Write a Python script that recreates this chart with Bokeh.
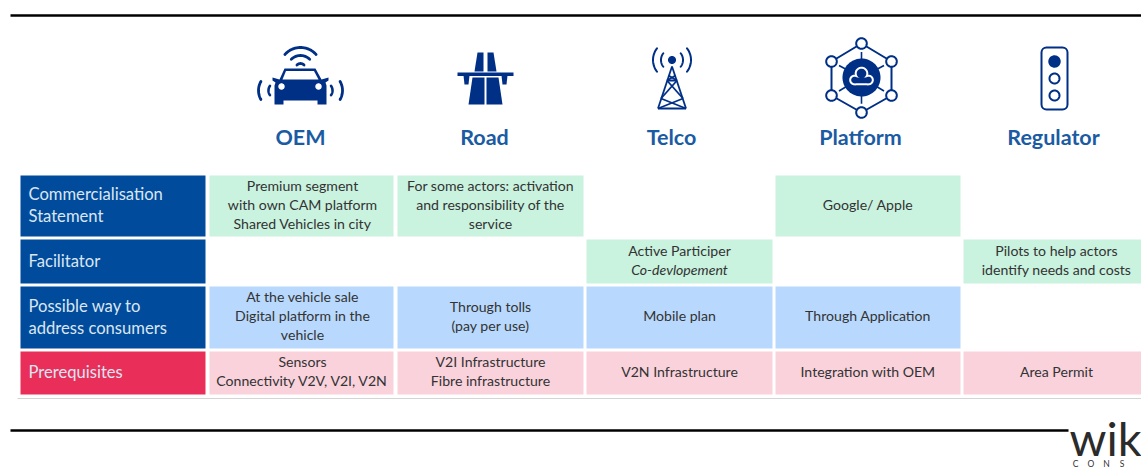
import numpy as np
from bokeh.plotting import figure
from bokeh.embed import file_html
from bokeh.resources import INLINE
from bokeh.core.properties import value

# ---- content ----
actors = ["OEM", "Road", "Telco", "Platform", "Regulator"]
row_labels = [["Commercialisation", "Statement"], ["Facilitator"],
              ["Possible way to", "address consumers"], ["Prerequisites"]]
commercialisation = [["Premium segment", "with own CAM platform", "Shared Vehicles in city"],
                     ["For some actors: activation", "and responsibility of the", "service"],
                     None, ["Google/ Apple"], None]
facilitator = [None, None, ["Active Participer", "Co-devlopement"], None,
               ["Pilots to help actors", "identify needs and costs"]]
consumers = [["At the vehicle sale", "Digital platform in the", "vehicle"],
             ["Through tolls", "(pay per use)"], ["Mobile plan"], ["Through Application"], None]
prerequisites = [["Sensors", "Connectivity V2V, V2I, V2N"],
                 ["V2I Infrastructure", "Fibre infrastructure"],
                 ["V2N Infrastructure"], ["Integration with OEM"], ["Area Permit"]]
table = [commercialisation, facilitator, consumers, prerequisites]
italic_lines = {"Co-devlopement"}
logo_main = "wik"
logo_sub = "CONSU"

# ---- layout (page pixels) ----
col_edges = [(209, 393), (397, 583), (586, 772), (775, 960), (963, 1141)]
col_text_x = [302, 490, 679, 867.5, 1056]
row_edges = [(175, 236), (239, 283), (286, 348), (351, 394)]
label_edge = (20, 205)
header_x = [300, 484, 671, 860, 1053]
NAVY, ICON = "#004b9c", "#002f86"
label_fill = [NAVY, NAVY, NAVY, "#e92e5a"]
cell_fill = ["#c9f2df", "#c9f2df", "#b8d9fd", "#f9d2dc"]
FONT = "Lato"

p = figure(width=1141, height=468, x_range=(0, 1141), y_range=(468, 0),
           toolbar_location=None, output_backend="svg", min_border=0,
           outline_line_color=None, background_fill_color="white")
p.xaxis.visible = False
p.yaxis.visible = False
p.grid.visible = False


def write(x, y, t, size, color, style="normal", align="center"):
    p.text([x], [y], text=[t], text_font=value(FONT), text_font_size=f"{size}px",
           text_color=color, text_font_style=style, text_align=align, text_baseline="middle")


def arc(cx, cy, r, a0, a1, n=24):
    """Polyline of an icon arc; angles clockwise from screen-right."""
    t = np.radians(np.linspace(a0, a1, n))
    return cx + r * np.cos(t), cy + r * np.sin(t)


def stroke(cx, cy, r, a0, a1, w=2.6, color=ICON):
    xs, ys = arc(cx, cy, r, a0, a1)
    p.line(xs, ys, line_color=color, line_width=w, line_cap="round")


def disc(cx, cy, r, fill=ICON, line=None, w=0):
    xs, ys = arc(cx, cy, r, 0, 360, 60)
    p.patch(xs, ys, fill_color=fill, line_color=line, line_width=w)


def poly(pts, dx=0.0, dy=0.0, fill=ICON):
    a = np.array(pts, float)
    p.patch(a[:, 0] + dx, a[:, 1] + dy, fill_color=fill, line_color=None)


# rules
p.line([10, 1141], [15, 15], line_color="#000000", line_width=2.6)
p.line([10, 1068], [430, 430], line_color="#000000", line_width=2.6)
p.line([17, 1141], [398, 398], line_color="#d4d4d4", line_width=1.2)

# table
for r, (top, bottom) in enumerate(row_edges):
    p.quad(left=[label_edge[0]], right=[label_edge[1]], top=[top], bottom=[bottom],
           fill_color=label_fill[r], line_color=None)
    lines = row_labels[r]
    mid = (top + bottom) / 2
    for i, t in enumerate(lines):
        write(28, mid - 0.7 + (i - (len(lines) - 1) / 2) * 22, t, 16.6, "#dce6f2", align="left")
    for c, (left, right) in enumerate(col_edges):
        lines = table[r][c]
        if lines is None:
            continue
        p.quad(left=[left], right=[right], top=[top], bottom=[bottom],
               fill_color=cell_fill[r], line_color=None)
        for i, t in enumerate(lines):
            write(col_text_x[c], mid - 1.6 + (i - (len(lines) - 1) / 2) * 19, t, 14.1, "#333333",
                  style="italic" if t in italic_lines else "normal")

# headers
for x, t in zip(header_x, actors):
    write(x, 136.5, t, 21.5, "#1a5ba3", style="bold")

# --- car icon ---
cx, cy = 300, 68
for r, half in [(21, 48), (13, 45), (5, 45)]:
    stroke(cx, cy, r, 270 - half, 270 + half, w=2.8)
for sx, a in [(276, 180), (324, 0)]:
    stroke(sx, 90, 18, a - 30, a + 30, w=2.8)
    stroke(sx, 90, 8, a - 35, a + 35, w=2.6)
poly([(284, 68), (315, 68), (321, 79), (328, 77), (328, 80), (325, 82), (326, 85), (326, 99),
      (326, 104), (317, 104), (317, 100), (283, 100), (283, 104), (274, 104), (274, 85),
      (275, 82), (272, 80), (272, 77), (279, 79)])
poly([(285.5, 70.5), (313.5, 70.5), (318, 79), (282, 79)], fill="white")
disc(281, 86, 3.2, fill="white")
disc(318, 86, 3.2, fill="white")

# --- road icon ---
rx = 485
for s in (-1, 1):
    poly([(s * 2, 52), (s * 8, 52), (s * 11, 71), (s * 2, 71)], dx=rx)
    poly([(s * 1, 77), (s * 13, 77), (s * 17, 104), (s * 1, 104)], dx=rx)
    poly([(s * 16, 75), (s * 22, 75), (s * 21, 84), (s * 17, 84)], dx=rx)
p.quad(left=[457], right=[513], top=[72], bottom=[75.5], fill_color=ICON, line_color=None)

# --- telco icon ---
tx, ty = 671.5, 59.5
disc(tx, ty, 4)
for r in (11, 19):
    stroke(tx, ty, r, 180 - 38, 180 + 38, w=2)
    stroke(tx, ty, r, -38, 38, w=2)
tower = [([tx, tx - 14], [66, 108]), ([tx, tx + 14], [66, 108]), ([tx - 14, tx + 14], [108, 108]),
         ([tx - 5, tx + 5], [80, 80]), ([tx - 5, tx + 11], [80, 98]), ([tx + 5, tx - 11], [80, 98]),
         ([tx - 3.5, tx + 5], [75, 80]), ([tx + 3.5, tx - 5], [75, 80]),
         ([tx - 11, tx + 14], [98, 108]), ([tx + 11, tx - 14], [98, 108])]
for xs, ys in tower:
    p.line(xs, ys, line_color=ICON, line_width=1.8)

# --- platform icon ---
hx, hy = 861, 77
nodes = [(0, -34), (30, -16), (30, 18), (0, 35), (-30, 18), (-30, -16)]
nx = [hx + a for a, b in nodes]
ny = [hy + b for a, b in nodes]
p.line(nx + nx[:1], ny + ny[:1], line_color=ICON, line_width=2)
for a, b in nodes:
    p.line([hx, hx + a * 0.75], [hy, hy + b * 0.75], line_color=ICON, line_width=1.6)
disc(hx, hy, 19)
for x, y in zip(nx, ny):
    disc(x, y, 5.3, fill="white", line=ICON, w=2)
for inset, col in ((0, "white"), (2, ICON)):
    disc(861, 73, 6.8 - inset, fill=col)
    disc(854, 79.5, 5.3 - inset, fill=col)
    disc(868, 79.5, 5.3 - inset, fill=col)
    p.quad(left=[854], right=[868], top=[76 + inset * 0.5], bottom=[84.8 - inset],
           fill_color=col, line_color=None)

# --- regulator icon ---
p.quad(left=[1041], right=[1067], top=[47], bottom=[109], fill_color="white",
       line_color=ICON, line_width=2, border_radius=5)
disc(1054, 61, 6.2)
disc(1054, 78, 5, fill="white", line=ICON, w=2)
disc(1054, 95, 5, fill="white", line=ICON, w=2)

# --- logo ---
write(1069, 437.5, logo_main, 47, "#2b2b2b", align="left")
for k, ch in enumerate(logo_sub[:4]):
    write(1075 + k * 15.5, 463, ch, 8.5, "#333333")

open("out.html", "w").write(file_html(p, INLINE))
